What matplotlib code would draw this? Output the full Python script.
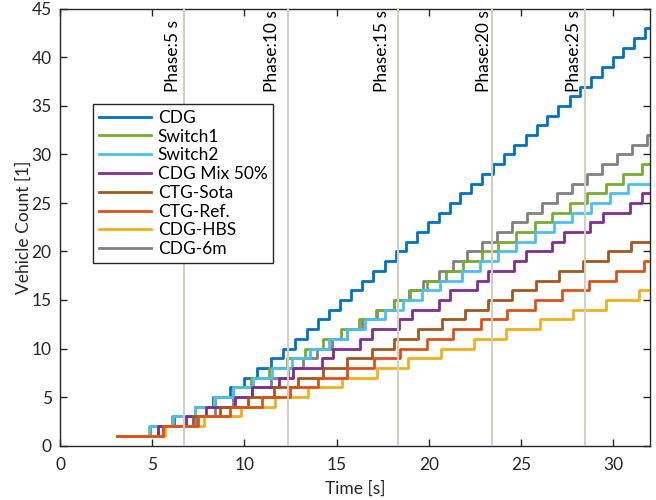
import numpy as np
import matplotlib
matplotlib.use("Agg")
import matplotlib.pyplot as plt

plt.rcParams['font.family'] = ['Lato', 'DejaVu Sans']

# ---------------- data ----------------
t_start = 3.1
t_end = 32.0

names = ["CDG", "Switch1", "Switch2", "CDG Mix 50%", "CTG-Sota", "CTG-Ref.", "CDG-HBS", "CDG-6m"]
colors = ["#0072BD", "#77AC30", "#4DBEEE", "#7E2F8E", "#A2571E", "#D95319", "#EDB120", "#808080"]

# times [s] at which the vehicle count increases by one (count starts at 1 at t_start)
cdg = [4.9, 6.2, 7.3, 8.3, 9.2, 10.0, 10.7, 11.45, 12.1, 12.75, 13.4, 14.02, 14.6, 15.2,
       15.8, 16.4, 17.0, 17.6, 18.2, 18.77, 19.35, 19.97, 20.57, 21.13, 21.7, 22.3, 22.88,
       23.46, 24.06, 24.64, 25.25, 25.87, 26.44, 27.02, 27.64, 28.22, 28.8, 29.37, 29.97,
       30.56, 31.14, 31.72]
switch1 = [4.9, 6.1, 7.3, 8.4, 9.4, 10.35, 11.36, 12.33, 13.29, 14.25, 15.23, 16.19, 17.15,
           18.09, 18.96, 19.93, 20.94, 21.88, 22.88, 23.78, 24.74, 25.74, 26.71, 27.67,
           28.61, 29.59, 30.56, 31.56]
switch2 = [4.85, 6.15, 7.3, 8.35, 9.4, 10.46, 11.48, 12.57, 13.56, 14.61, 15.59, 16.55,
           17.63, 18.63, 19.62, 20.62, 21.79, 22.79, 23.78, 24.74, 25.77, 26.8, 27.76,
           28.79, 29.84, 30.83]
mix50 = [5.3, 6.84, 7.92, 9.5, 10.4, 11.9, 12.66, 14.2, 14.83, 16.28, 16.9, 18.41, 19.08,
         20.53, 21.16, 22.61, 23.24, 24.63, 25.28, 26.71, 27.35, 28.76, 29.45, 30.89, 31.56]
ctg_sota = [5.56, 7.2, 8.68, 10.17, 11.58, 12.93, 14.25, 15.55, 16.91, 18.12, 19.39, 20.71,
            21.97, 23.2, 24.5, 25.8, 27.09, 28.39, 29.7, 30.98]
ctg_ref = [5.56, 7.5, 9.22, 10.94, 12.48, 14.02, 15.56, 17.05, 18.45, 19.9, 21.34, 22.84,
           24.27, 25.77, 27.22, 28.67, 30.15, 31.65]
cdg_hbs = [5.7, 7.83, 9.8, 11.67, 13.47, 15.28, 17.18, 18.9, 20.67, 22.43, 24.2, 26.04,
           27.8, 29.63, 31.38]
cdg_6m = [5.3, 7.4, 8.4, 9.4, 10.4, 11.43, 12.39, 13.17, 13.93, 14.74, 15.55, 16.36, 17.2,
          18.09, 18.95, 19.71, 20.53, 21.3, 22.07, 22.88, 23.69, 24.5, 25.32, 26.14, 26.98,
          27.76, 28.57, 29.39, 30.2, 31.02, 31.83]
series = [cdg, switch1, switch2, mix50, ctg_sota, ctg_ref, cdg_hbs, cdg_6m]

phase_times = [6.7, 12.38, 18.35, 23.45, 28.5]
phase_labels = ["Phase:5 s", "Phase:10 s", "Phase:15 s", "Phase:20 s", "Phase:25 s"]

x_ticks = [0, 5, 10, 15, 20, 25, 30]
y_ticks = [0, 5, 10, 15, 20, 25, 30, 35, 40, 45]

# ---------------- layout / style ----------------
zorders = [2.1, 2.2, 2.3, 2.4, 2.5, 2.7, 2.6, 2.0]
label_x_offset = [-0.55, -0.88, -0.9, -0.48, -0.62]
axc = "#262626"

fig = plt.figure(figsize=(6.56, 5.0), dpi=100)
ax = fig.add_axes([60 / 656, 54.5 / 500, 590 / 656, 436.5 / 500])

for name, col, arr, zo in zip(names, colors, series, zorders):
    t = np.concatenate([[t_start], arr, [t_end]])
    n = np.arange(1, len(arr) + 2)
    n = np.concatenate([n, [n[-1]]])
    ax.step(t, n, where='post', color=col, lw=2.0, label=name, zorder=zo)

for pt, lab, off in zip(phase_times, phase_labels, label_x_offset):
    ax.axvline(pt, color="#D3CFC7", lw=1.5, zorder=3)
    ax.text(pt + off, 36.45, lab, rotation=90, ha='center', va='bottom', fontsize=12.5,
            color='black', zorder=4)

ax.set_xlim(0, 32)
ax.set_ylim(0, 45)
ax.set_xticks(x_ticks)
ax.set_yticks(y_ticks)
ax.tick_params(direction='in', length=5, width=1, colors=axc, labelsize=12.5,
               top=True, right=True, labelcolor=axc)
ax.tick_params(axis='x', pad=8.5)
ax.tick_params(axis='y', pad=6)
for s in ax.spines.values():
    s.set_color(axc)
    s.set_linewidth(1)
ax.set_xlabel("Time [s]", fontsize=12.5, color=axc, labelpad=5)
ax.set_ylabel("Vehicle Count [1]", fontsize=12.5, color=axc, labelpad=-0.5)

leg = ax.legend(loc='upper left', bbox_to_anchor=(33 / 590, (445.5 - 104) / 436.5),
                borderaxespad=0, fontsize=12.5, handlelength=3.0, handletextpad=0.4,
                labelspacing=0.16, borderpad=0.33, fancybox=False, framealpha=1,
                edgecolor=axc)
leg.get_frame().set_linewidth(1)
leg.set_zorder(5)

fig.savefig("out.png", dpi=100)
